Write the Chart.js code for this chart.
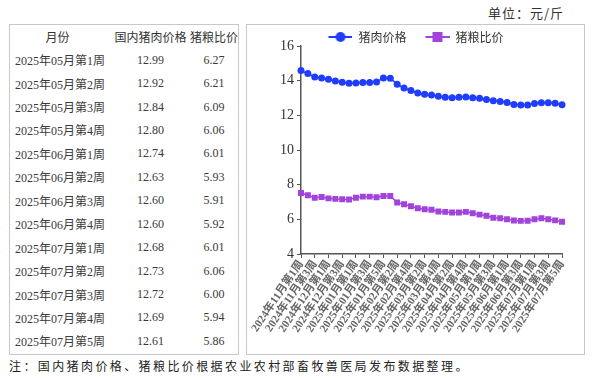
<!DOCTYPE html>
<html><head><meta charset="utf-8">
<script src="https://cdn.jsdelivr.net/npm/chart.js@4.4.0/dist/chart.umd.min.js"></script>
<style>
html,body{margin:0;padding:0;background:#fff;}
body{width:592px;height:378px;position:relative;overflow:hidden;font-family:"Liberation Serif","Noto Sans CJK SC",serif;color:#333;}
#unit{position:absolute;left:488px;top:3px;font-size:13px;font-family:"Noto Sans CJK SC",sans-serif;color:#333;letter-spacing:1px;}
#tbox{position:absolute;left:9px;top:24px;width:228px;height:329px;border:1px solid #c8c8c8;}
#tbox table{border-collapse:collapse;width:100%;}
#tbox td{height:23.45px;padding:0;font-size:12px;color:#3a3a3a;white-space:nowrap;}
#tbox td.c1{padding-left:5px;width:96px;}
#tbox td.c2{text-align:center;width:80px;}
#tbox td.c3{text-align:center;}
#tbox tr.h td{color:#333;}
#tbox tr.h td.c1{text-align:center;padding-left:0;padding-right:6px;}
#cbox{position:absolute;left:246px;top:24px;width:337px;height:329px;border:1px solid #c8c8c8;}
#cbox canvas{position:absolute;left:0;top:0;}
#note{position:absolute;left:9px;top:357px;font-size:12px;letter-spacing:2.4px;color:#222;font-family:"Noto Sans CJK SC",sans-serif;}
</style></head>
<body>
<div id="unit">单位：元/斤</div>
<div id="tbox"><table id="tbl"></table></div>
<div id="cbox"><canvas id="c" width="337" height="329"></canvas></div>
<div id="note">注：国内猪肉价格、猪粮比价根据农业农村部畜牧兽医局发布数据整理。</div>
<script>
const weeks = [
 "2024年11月第1周","2024年11月第2周","2024年11月第3周","2024年11月第4周",
 "2024年12月第1周","2024年12月第2周","2024年12月第3周","2024年12月第4周",
 "2025年01月第1周","2025年01月第2周","2025年01月第3周","2025年01月第4周","2025年01月第5周",
 "2025年02月第1周","2025年02月第2周","2025年02月第3周","2025年02月第4周",
 "2025年03月第1周","2025年03月第2周","2025年03月第3周","2025年03月第4周",
 "2025年04月第1周","2025年04月第2周","2025年04月第3周","2025年04月第4周","2025年04月第5周",
 "2025年05月第1周","2025年05月第2周","2025年05月第3周","2025年05月第4周",
 "2025年06月第1周","2025年06月第2周","2025年06月第3周","2025年06月第4周",
 "2025年07月第1周","2025年07月第2周","2025年07月第3周","2025年07月第4周","2025年07月第5周"
];
const porkPrice = [14.58,14.41,14.21,14.16,14.08,13.98,13.91,13.85,13.87,13.89,13.89,13.93,14.16,14.14,13.79,13.58,13.43,13.29,13.22,13.18,13.10,13.04,13.02,13.04,13.06,13.02,
 12.99,12.92,12.84,12.80,12.74,12.63,12.60,12.60,12.68,12.73,12.72,12.69,12.61];
const hogGrainRatio = [7.52,7.39,7.24,7.29,7.21,7.18,7.16,7.14,7.24,7.31,7.31,7.27,7.35,7.35,6.97,6.87,6.75,6.64,6.58,6.55,6.45,6.43,6.39,6.39,6.43,6.35,
 6.27,6.21,6.09,6.06,6.01,5.93,5.91,5.92,6.01,6.06,6.00,5.94,5.86];
const tableHeaders = ["月份","国内猪肉价格","猪粮比价"];
const seriesNames = ["猪肉价格","猪粮比价"];
const yTicks = [4,6,8,10,12,14,16];
const tableRows = 13;

// table
const tbl = document.getElementById('tbl');
let html = '<tr class="h"><td class="c1">'+tableHeaders[0]+'</td><td class="c2">'+tableHeaders[1]+'</td><td class="c3">'+tableHeaders[2]+'</td></tr>';
const n = weeks.length;
for (let i = n - tableRows; i < n; i++) {
  html += '<tr><td class="c1">'+weeks[i]+'</td><td class="c2">'+porkPrice[i].toFixed(2)+'</td><td class="c3">'+hogGrainRatio[i].toFixed(2)+'</td></tr>';
}
tbl.innerHTML = html;

const BLUE = '#1f3cff', PURPLE = '#a243dc';
const ICON_MARGIN = 13, ICON_W = 24;
function legendIcon(color, style) {
  const c = document.createElement('canvas');
  c.width = ICON_MARGIN + ICON_W; c.height = 12;
  const g = c.getContext('2d');
  g.strokeStyle = color; g.lineWidth = 2;
  const x0 = ICON_MARGIN, cx = ICON_MARGIN + ICON_W / 2;
  g.beginPath(); g.moveTo(x0,6); g.lineTo(x0 + ICON_W,6); g.stroke();
  g.fillStyle = color;
  if (style === 'circle') { g.beginPath(); g.arc(cx,6,5,0,Math.PI*2); g.fill(); }
  else { g.fillRect(cx-5,1,10,10); }
  return c;
}
const icons = [legendIcon(BLUE,'circle'), legendIcon(PURPLE,'rect')];

new Chart(document.getElementById('c'), {
  type: 'line',
  data: {
    labels: weeks,
    datasets: [
      {label: seriesNames[0], data: porkPrice, borderColor: BLUE, backgroundColor: BLUE, borderWidth: 1.5,
       pointStyle: 'circle', pointRadius: 3.5, pointBorderWidth: 0, tension: 0},
      {label: seriesNames[1], data: hogGrainRatio, borderColor: PURPLE, backgroundColor: PURPLE, borderWidth: 1.5,
       pointStyle: 'rect', pointRadius: 4.2, pointBorderWidth: 0, tension: 0}
    ]
  },
  options: {
    responsive: false, animation: false, devicePixelRatio: 1,
    layout: {padding: {left: 10, right: 22, top: 0, bottom: 0}},
    plugins: {
      tooltip: {enabled: false},
      legend: {
        position: 'top',
        maxHeight: 21,
        labels: {
          usePointStyle: true, pointStyleWidth: ICON_MARGIN + ICON_W, boxHeight: 12, padding: 6,
          color: '#333', font: {family: '"Noto Sans CJK SC", sans-serif', size: 12},
          generateLabels: (chart) => chart.data.datasets.map((ds, i) => ({
            text: ds.label, pointStyle: icons[i], fillStyle: ds.borderColor, strokeStyle: ds.borderColor,
            lineWidth: 0, datasetIndex: i, hidden: false, fontColor: '#333'
          }))
        }
      }
    },
    scales: {
      x: {
        offset: false,
        border: {display: true, color: '#555', width: 1.5},
        grid: {display: true, drawOnChartArea: false, drawTicks: true, tickLength: 4,
               tickColor: (ctx) => (ctx.index % 2 === 0 ? '#555' : 'rgba(0,0,0,0)')},
        ticks: {
          autoSkip: false, minRotation: 56, maxRotation: 56, padding: 0,
          color: '#666', font: {family: '"Liberation Serif","Noto Sans CJK SC",serif', size: 11.2, weight: 'bold'},
          callback: function(v, i) { return i % 2 === 0 ? this.getLabelForValue(v) : ''; }
        },
        afterFit: (s) => { s.height = 100; }
      },
      y: {
        min: 4, max: 16,
        border: {display: true, color: '#555', width: 1.5},
        grid: {display: true, drawOnChartArea: false, drawTicks: true, tickLength: 4, tickColor: '#555'},
        afterBuildTicks: (s) => { s.ticks = yTicks.map(v => ({value: v})); },
        ticks: {color: '#333', padding: 3, font: {family: '"Liberation Serif", serif', size: 14}},
        afterFit: (s) => { s.width = 44; }
      }
    }
  }
});
</script>
</body></html>
